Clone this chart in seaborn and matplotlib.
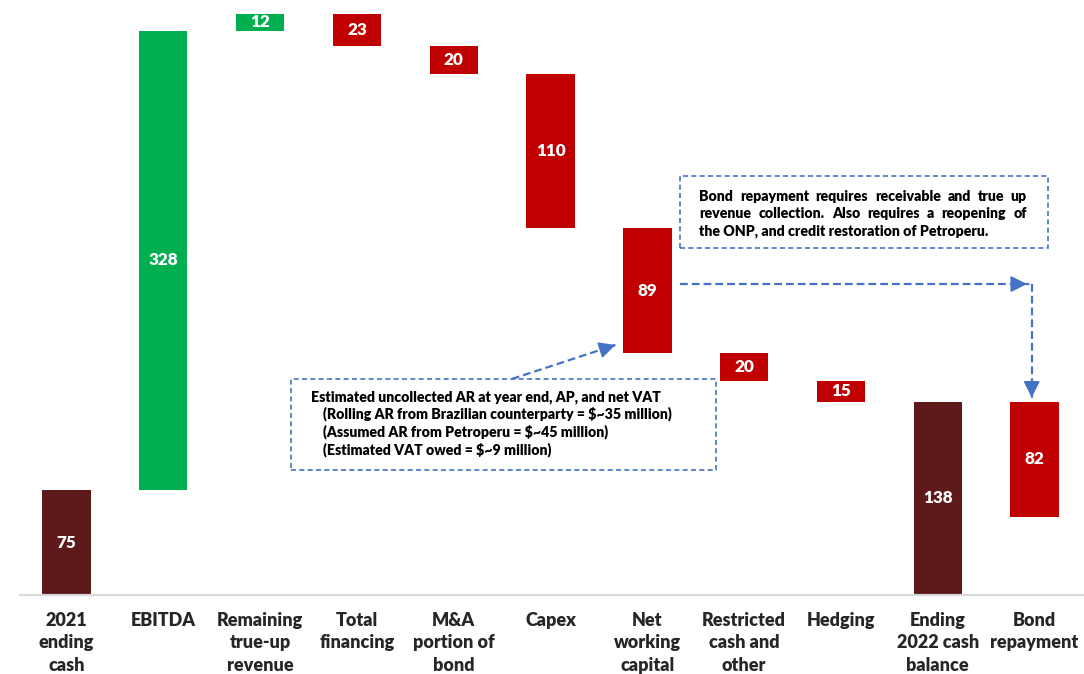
import matplotlib
matplotlib.use("Agg")
import matplotlib.pyplot as plt
from matplotlib.patches import Rectangle
import seaborn as sns
import pandas as pd

# ---- data -------------------------------------------------------------
categories = [
    "2021\nending\ncash", "EBITDA", "Remaining\ntrue-up\nrevenue", "Total\nfinancing",
    "M&A\nportion of\nbond", "Capex", "Net\nworking\ncapital", "Restricted\ncash and\nother",
    "Hedging", "Ending\n2022 cash\nbalance", "Bond\nrepayment",
]
changes = [75, 328, 12, -23, -20, -110, -89, -20, -15, 138, -82]
kinds = ["total", "up", "up", "down", "down", "down", "down", "down", "down", "total", "down"]

note_left = [
    "Estimated uncollected AR at year end, AP, and net VAT",
    "(Rolling AR from Brazilian counterparty = $~35 million)",
    "(Assumed AR from Petroperu = $~45 million)",
    "(Estimated VAT owed = $~9 million)",
]
note_right = [
    "Bond repayment requires receivable and true up",
    "revenue collection.  Also requires a reopening of",
    "the ONP, and credit restoration of Petroperu.",
]

colors = {"total": "#5E1A1A", "up": "#00B050", "down": "#C00000"}
BLUE = "#4472C4"
WEIGHT = "heavy"

# ---- waterfall geometry ----------------------------------------------
bottoms, heights = [], []
level = 0
for c, k in zip(changes, kinds):
    if k == "total":
        bottoms.append(0)
        heights.append(c)
        level = c
    elif c >= 0:
        bottoms.append(level)
        heights.append(c)
        level += c
    else:
        bottoms.append(level + c)
        heights.append(-c)
        level += c

df = pd.DataFrame({"cat": categories, "height": heights, "bottom": bottoms,
                   "kind": kinds, "value": [abs(c) for c in changes]})

sns.set_style("white")
plt.rcParams["font.family"] = ["Lato", "DejaVu Sans"]

fig = plt.figure(figsize=(10.84, 6.74), dpi=100)
ax = fig.add_axes([20 / 1084, 79 / 674, 1064 / 1084, 595 / 674])

sns.barplot(data=df, x="cat", y="height", hue="cat",
            palette=[colors[k] for k in kinds], width=0.5, legend=False,
            saturation=1, ax=ax)

# lift each bar onto its running base
for p in ax.patches:
    i = int(round(p.get_x() + p.get_width() / 2))
    p.set_y(df["bottom"][i])
    p.set_height(df["height"][i])
    p.set_linewidth(0)

for i, r in df.iterrows():
    ax.text(i, r["bottom"] + r["height"] / 2, f"{r['value']}", ha="center", va="center",
            color="white", fontsize=12.3, fontweight=WEIGHT)

ax.set_xlim(-0.48, 10.51)
ax.set_ylim(0, 425)
ax.set_xlabel("")
ax.set_ylabel("")
ax.set_yticks([])
for s in ["top", "right", "left"]:
    ax.spines[s].set_visible(False)
ax.spines["bottom"].set_color("#D9D9D9")
ax.spines["bottom"].set_linewidth(1.6)
ax.tick_params(axis="x", length=0, pad=12)
for lab in ax.get_xticklabels():
    lab.set_fontweight(WEIGHT)
    lab.set_fontsize(13)
    lab.set_linespacing(1.4)
    lab.set_multialignment("center")

# ---- callout boxes ---------------------------------------------------
box_kw = dict(fill=False, edgecolor=BLUE, linewidth=1.2, linestyle=(0, (3, 2)), zorder=3)
ax.add_patch(Rectangle((2.32, 89.3), 6.71 - 2.32, 154.3 - 89.3, **box_kw))
ax.add_patch(Rectangle((6.34, 247.9), 10.14 - 6.34, 299.3 - 247.9, **box_kw))

note_kw = dict(fontsize=10.2, fontweight=WEIGHT, color="black", va="center")
ax.text(2.526, 141.4, note_left[0], **note_kw)
for j, line in enumerate(note_left[1:]):
    ax.text(2.650, 129.3 - j * 12.6, line, **note_kw)

# justified paragraph in the right-hand box
fig.canvas.draw()
renderer = fig.canvas.get_renderer()
x0, x1 = 6.535, 9.92
y0, dy = 284.3, 12.1
for j, line in enumerate(note_right):
    y = y0 - j * dy
    if j == len(note_right) - 1:
        ax.text(x0, y, line, ha="left", **note_kw)
        continue
    words = line.split()
    widths = []
    for w in words:
        t = ax.text(0, y, w, ha="left", **note_kw)
        widths.append(t.get_window_extent(renderer).width)
        t.remove()
    d0 = ax.transData.transform((x0, y))[0]
    d1 = ax.transData.transform((x1, y))[0]
    gap = (d1 - d0 - sum(widths)) / (len(words) - 1)
    xd = d0
    for w, wd in zip(words, widths):
        xdata = ax.transData.inverted().transform((xd, 0))[0]
        ax.text(xdata, y, w, ha="left", **note_kw)
        xd += wd + gap

# ---- dashed arrows ---------------------------------------------------
line_kw = dict(color=BLUE, linewidth=1.6, dashes=(3.5, 1.8), zorder=3)
head_kw = dict(arrowstyle="-|>,head_length=1.0,head_width=0.5", color=BLUE, lw=1.2)


def dashed_arrow(xs, ys):
    ax.plot(xs, ys, **line_kw)
    ax.annotate("", xy=(xs[-1], ys[-1]),
                xytext=(xs[-1] - (xs[-1] - xs[-2]) * 0.02, ys[-1] - (ys[-1] - ys[-2]) * 0.02),
                arrowprops=head_kw)


dashed_arrow([4.60, 5.67], [154.3, 178.6])
dashed_arrow([6.34, 9.95], [222.1, 222.1])
dashed_arrow([9.97, 9.97], [222.1, 141.0])

fig.savefig("out.png", dpi=100)
